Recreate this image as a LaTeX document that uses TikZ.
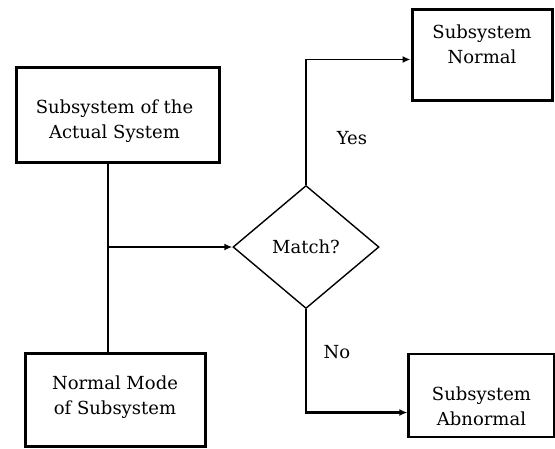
\documentclass[tikz,border=0pt]{standalone}
\usepackage{fontspec}
\setmainfont{DejaVu Serif}
\usetikzlibrary{shapes.geometric,arrows.meta}
\begin{document}
\begin{tikzpicture}[x=1pt,y=-1pt,
  boxnode/.style={draw,line width=3pt,rectangle,inner sep=0pt},
  boxtext/.style={align=center,font=\fontsize{18}{25}\selectfont,inner sep=0pt},
  decnode/.style={draw,line width=1.4pt,diamond,inner sep=0pt,minimum width=146pt,minimum height=123pt,font=\fontsize{18}{22}\selectfont},
  conn/.style={line width=2.8pt},
  arr/.style={-{Latex[length=8pt,width=7pt]}},
  lbl/.style={font=\fontsize{18}{22}\selectfont}]
\useasboundingbox (0,0) rectangle (555,448);
\node[boxnode,minimum width=203pt,minimum height=95pt,
  label={[boxtext,yshift=-7pt,xshift=-3pt]center:Subsystem of the\\Actual System}] (actual) at (117.5,114.5) {};
\node[boxnode,minimum width=180pt,minimum height=93pt,
  label={[boxtext,yshift=2pt]center:Normal Mode\\of Subsystem}] (normal) at (115,399.5) {};
\node[decnode] (match) at (306,247) {Match?};
\node[boxnode,minimum width=140pt,minimum height=91pt,
  label={[boxtext,yshift=10pt]center:Subsystem\\Normal}] (sn) at (482,54.5) {};
\node[boxnode,minimum width=146pt,minimum height=83pt,line width=2.2pt,
  label={[boxtext,yshift=-11pt]center:Subsystem\\Abnormal}] (sa) at (481.5,395.5) {};
\coordinate (t) at ([xshift=-9.5pt]actual.south);
\coordinate (j) at (t |- match.west);
\draw[conn] (t) -- (t |- normal.north);
\draw[line width=1.8pt,arr] (j) -- (match.west);
\draw[line width=1.8pt,arr] (match.north) |- ([yshift=-5pt]sn.west);
\draw[conn,arr] (match.south) |- ([yshift=-17pt]sa.west);
\node[lbl] (yes) at (352,138) {Yes};
\node[lbl] (no) at (337,352) {No};
\end{tikzpicture}
\end{document}
